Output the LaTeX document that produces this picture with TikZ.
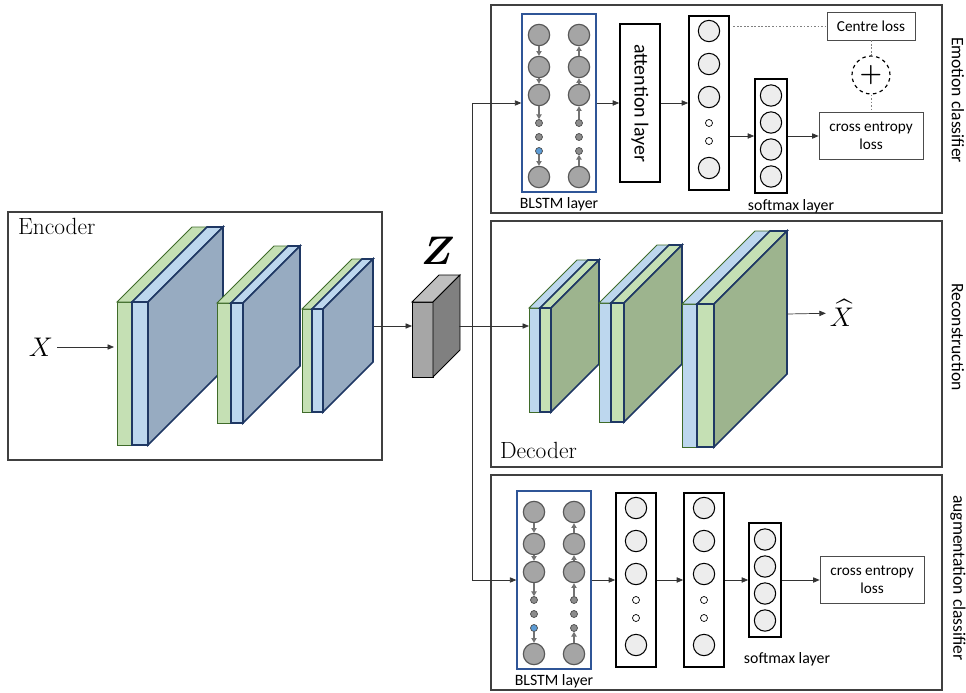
\documentclass[tikz,border=0pt]{standalone}
\usepackage{fix-cm}
\usepackage{amsmath}
\usepackage{fontspec}
\setsansfont{Carlito}
\usetikzlibrary{positioning,arrows.meta}

\definecolor{lgreen}{HTML}{C5E0B4}
\definecolor{lblue}{HTML}{BDD7EE}
\definecolor{encside}{HTML}{97ABC1}
\definecolor{decside}{HTML}{9DB48E}
\definecolor{dgreen}{HTML}{3F6B2A}
\definecolor{navy}{HTML}{1F3864}
\definecolor{lstmblue}{HTML}{2F5597}
\definecolor{nodegray}{HTML}{A5A5A5}
\definecolor{dotblue}{HTML}{5B9BD5}

% slab: style, x, top, width, height, depth, front, top face, side face
\newcommand{\slab}[9]{%
  \filldraw[#1,fill=#7] (#2,#3) rectangle ++(#4,#5);
  \filldraw[#1,fill=#8] (#2,#3) -- ++(#6,-#6) -- ++(#4,0) -- ++(-#6,#6) -- cycle;
  \filldraw[#1,fill=#9] (#2+#4,#3) -- ++(#6,-#6) -- ++(0,#5) -- ++(-#6,#6) -- cycle;
}

\begin{document}
\begin{tikzpicture}[x=0.03cm,y=-0.03cm,
	panel/.style={draw=black!75, line width=1.2pt},
	slabA/.style={draw=dgreen, line width=0.8pt},
	slabB/.style={draw=navy, line width=1.4pt},
	conn/.style={draw=black!80, line width=0.6pt},
	arr/.style={conn, -{Triangle[length=5.5pt,width=4.5pt]}},
	rarr/.style={draw=black!55, line width=0.9pt, -{Triangle[length=4pt,width=4.5pt]}},
	blstm/.style={draw=lstmblue, line width=1.1pt, minimum width=22.2mm, minimum height=53.4mm},
	gcirc/.style={circle, draw=black!65, fill=nodegray, line width=1pt, minimum size=6.4mm, inner sep=0pt},
	gdot/.style={circle, draw=black!70, line width=0.6pt, minimum size=2.1mm, inner sep=0pt},
	dense/.style={draw, line width=1.4pt, minimum width=12mm, minimum height=52.2mm},
	softbox/.style={draw, line width=1.4pt, minimum width=9.6mm, minimum height=34.2mm},
	wcirc/.style={circle, draw, fill=black!7, line width=0.9pt, minimum size=6.4mm, inner sep=0pt},
	wdot/.style={circle, draw, line width=0.6pt, minimum size=2.1mm, inner sep=0pt},
	lossbox/.style={draw=black!70, line width=0.6pt, align=center, font=\sffamily\fontsize{13}{15.5}\selectfont},
	lbl/.style={font=\sffamily\fontsize{13.5}{15}\selectfont},
	sidelbl/.style={rotate=-90, font=\sffamily\fontsize{15}{17}\selectfont},
	dotline/.style={draw=black!50, line width=0.6pt, dash pattern=on 1.5pt off 1.5pt},
	]
	\useasboundingbox (0,0) rectangle (966,693);
	
	% panels
	\draw[panel] (8,212) rectangle (382,460);
	\draw[panel] (491,5) rectangle (942,213);
	\draw[panel] (491,221) rectangle (942,467);
	\draw[panel] (491,475) rectangle (942,690);
	
	\node[anchor=base west, font=\fontsize{20}{22}\selectfont] (enc) at (14,234) {Encoder};
	\node[anchor=base west, font=\fontsize{20}{22}\selectfont] (dec) at (496,458) {Decoder};
	\node[sidelbl] (emo) at (958,100) {Emotion classifier};
	\node[sidelbl] (rec) at (958,337) {Reconstruction};
	\node[sidelbl] (aug) at (958,578) {augmentation classifier};
	
	% encoder
	\slab{slabA}{117}{302}{15}{143}{75}{lgreen}{lgreen}{lgreen}
	\slab{slabB}{132}{302}{16}{143}{75}{lblue}{lblue}{encside}
	\slab{slabA}{217}{303}{14}{120}{57}{lgreen}{lgreen}{lgreen}
	\slab{slabB}{231}{303}{12}{120}{57}{lblue}{lblue}{encside}
	\slab{slabA}{302}{309}{10}{103}{50}{lgreen}{lgreen}{lgreen}
	\slab{slabB}{312}{309}{11}{103}{50}{lblue}{lblue}{encside}
	
	% latent
	\slab{draw=black, line width=0.8pt}{412}{302}{21}{75}{27}{black!35}{black!25}{black!50}
	\node[font=\fontsize{34}{36}\selectfont] (zl) at (438,251) {$\boldsymbol{Z}$};
	
	% decoder
	\slab{slabA}{529}{308}{11}{104}{48}{lblue}{lblue}{lblue}
	\slab{slabB}{540}{308}{11}{104}{48}{lgreen}{lgreen}{decside}
	\slab{slabA}{599}{303}{12}{119}{58}{lblue}{lblue}{lblue}
	\slab{slabB}{611}{303}{13}{119}{58}{lgreen}{lgreen}{decside}
	\slab{slabA}{682}{304}{15}{143}{73}{lblue}{lblue}{lblue}
	\slab{slabB}{697}{304}{17}{143}{73}{lgreen}{lgreen}{decside}
	
	\coordinate (e1in) at (114,347);
	\coordinate (e3out) at (374,326);
	\coordinate (zin) at (412,326);
	\coordinate (zout) at (459,326);
	\coordinate (zbr) at (472,326);
	\coordinate (d1in) at (529,326);
	\coordinate (d3out) at (787,314);
	
	\node[font=\fontsize{23}{25}\selectfont] (xin) at (41,347) {$X$};
	\node[font=\fontsize{23}{25}\selectfont] (xout) at (842,313) {$\widehat{X}$};
	
	% BLSTM blocks
	\foreach \p/\cx/\cy in {bA/559/103, bB/554/580}{
		\node[blstm] (\p) at (\cx,\cy) {};
		\foreach \col/\dx/\dcol in {l/-20/dotblue, r/20/black!45}{
			\foreach \n/\dy in {1/-68,2/-36,3/-8,4/74}
				\node[gcirc] (\p\col\n) at ([shift={(\dx,\dy)}]\p.center) {};
			\foreach \n/\dy/\f in {1/20/black!45,2/34/black!45,3/48/\dcol}
				\node[gdot, fill=\f] (\p\col d\n) at ([shift={(\dx,\dy)}]\p.center) {};
		}
		\foreach \ia/\ib in {l1/l2,l2/l3,l3/ld1,ld3/l4,r2/r1,r3/r2,rd1/r3,r4/rd3}
			\draw[rarr] (\p\ia) -- (\p\ib);
	}
	\node[lbl, below=0.3mm of bA] (bAl) {BLSTM layer};
	\node[lbl, below=0.3mm of bB] (bBl) {BLSTM layer};
	
	% dense layers
	\foreach \p/\cx/\cy in {dA/709/103, dB/636/580, dC/704/580}{
		\node[dense] (\p) at (\cx,\cy) {};
		\foreach \n/\dy in {1/-72,2/-39,3/-6,4/65}
			\node[wcirc] (\p\n) at ([shift={(0,\dy)}]\p.center) {};
		\foreach \n/\dy in {1/20,2/38}
			\node[wdot] (\p d\n) at ([shift={(0,\dy)}]\p.center) {};
	}
	
	% softmax layers
	\foreach \p/\cx/\cy in {sA/771/136, sB/765/580}{
		\node[softbox] (\p) at (\cx,\cy) {};
		\foreach \n/\dy in {1/-40.5,2/-13.5,3/13.5,4/40.5}
			\node[wcirc] (\p\n) at ([shift={(0,\dy)}]\p.center) {};
	}
	\node[lbl] (sAl) at (791,206) {softmax layer};
	\node[lbl] (sBl) at (787,659) {softmax layer};
	
	\node[draw, line width=1.4pt, rotate=-90, minimum width=47.4mm, minimum height=12mm,
	font=\sffamily\fontsize{17}{19}\selectfont] (att) at (640,103) {attention layer};
	
	% losses
	\node[lossbox, minimum width=31.2mm, minimum height=14.1mm] (ceA) at (871,136) {cross entropy\\loss};
	\node[lossbox, minimum width=31.2mm, minimum height=14.1mm] (ceB) at (872,580) {cross entropy\\loss};
	\node[lossbox, minimum width=26.4mm, minimum height=8.4mm] (cl) at (871,26) {Centre loss};
	\node[circle, draw, dashed, line width=1pt, minimum size=11.4mm, inner sep=0pt] (pl) at (871,75)
	{\fontsize{22}{22}\selectfont$\boldsymbol{+}$};
	
	% connectors
	\draw[arr] (xin) -- (e1in);
	\draw[arr] (e3out) -- (zin);
	\draw[arr] (zout) -- (d1in);
	\draw[arr] (zbr) |- (bA);
	\draw[arr] (zbr) |- (bB);
	\draw[arr] (d3out) -- (xout);
	
	\draw[arr] (bA) -- (att);
	\draw[arr] (att) -- (dA);
	\draw[arr] (dA.east |- sA) -- (sA);
	\draw[arr] (sA) -- (ceA);
	\draw[dotline, shorten <=3pt] (dA.east |- cl) -- (cl);
	\draw[dotline] (cl) -- (pl);
	\draw[dotline] (pl) -- (ceA);
	
	\draw[arr] (bB) -- (dB);
	\draw[arr] (dB) -- (dC);
	\draw[arr] (dC) -- (sB);
	\draw[arr] (sB) -- (ceB);
\end{tikzpicture}
\end{document}
